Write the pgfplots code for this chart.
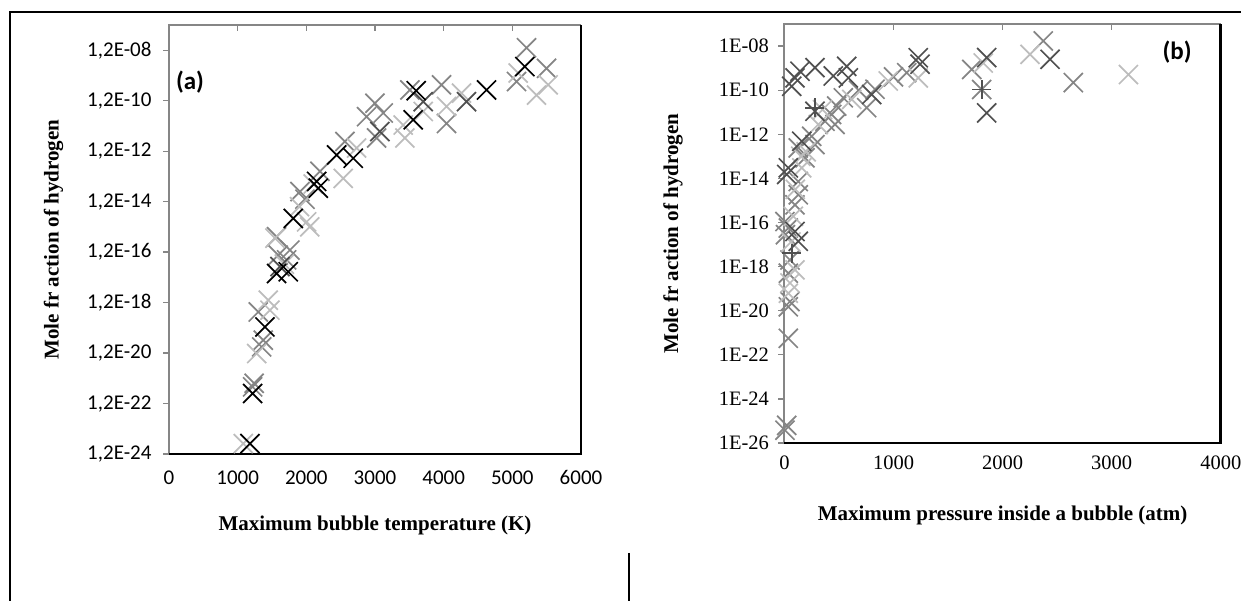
\documentclass[border=0pt]{standalone}
\usepackage{pgfplots}
\pgfplotsset{compat=1.18}
\usepackage{fontspec}
\setmainfont{Liberation Serif}
\newfontfamily\carlito{Carlito}
\definecolor{cblack}{HTML}{000000}
\definecolor{cdark}{HTML}{505050}
\definecolor{cgray}{HTML}{858585}
\definecolor{clight}{HTML}{BDBDBD}
\definecolor{caxis}{HTML}{868686}
\pgfplotsset{
  mk/.style={only marks, mark=x, mark size=13.5pt, line width=1.7pt, color=#1, mark options={solid}},
  pl/.style={only marks, mark=+, mark size=9.5pt, line width=1.7pt, color=#1},
}
\newcommand{\ta}[1]{\mbox{\carlito\fontsize{21}{21}\selectfont #1}}
\newcommand{\tb}[1]{\mbox{\fontsize{20.5}{20.5}\selectfont #1}}
\begin{document}
\begin{tikzpicture}
\path[use as bounding box] (0,0) rectangle (1241pt,601pt);
% outer frame lines
\draw[line width=2pt] (10pt,588.5pt) -- (1241pt,588.5pt);
\draw[line width=2pt] (10pt,589.5pt) -- (10pt,0pt);
\draw[line width=2pt] (628.5pt,48pt) -- (628.5pt,0pt);

% ---------------- panel (a)
\begin{axis}[
  scale only axis,
  ymode=log,
  axis line style={draw=none},
  xtick pos=upper, xticklabel pos=lower,
  ytick pos=left,
  xtick align=inside, ytick align=outside,
  major tick length=6pt,
  every tick/.style={caxis, line width=1.3pt},
  log ticks with fixed point=false,
  clip=false,
  at={(169pt,147pt)}, anchor=south west,
  width=412pt, height=429pt,
  xmin=0, xmax=6000, ymin=1.2e-24, ymax=1.2e-7,
  xtick={0,1000,2000,3000,4000,5000,6000},
  xticklabels={\ta{0},\ta{1000},\ta{2000},\ta{3000},\ta{4000},\ta{5000},\ta{6000}},
  ytick={1.2e-24,1.2e-22,1.2e-20,1.2e-18,1.2e-16,1.2e-14,1.2e-12,1.2e-10,1.2e-8},
  yticklabels={\ta{1,2E-24},\ta{1,2E-22},\ta{1,2E-20},\ta{1,2E-18},\ta{1,2E-16},\ta{1,2E-14},\ta{1,2E-12},\ta{1,2E-10},\ta{1,2E-08}},
  xticklabel style={yshift=-13pt},
  yticklabel style={xshift=-8pt},
  xlabel={Maximum bubble temperature (K)},
  ylabel={Mole fr action of hydrogen},
  xlabel style={at={(axis description cs:0.5,0)}, anchor=center, yshift=-71pt, font=\bfseries\fontsize{21}{21}\selectfont},
  ylabel style={at={(axis description cs:-0.28,0.5)}, anchor=center, font=\bfseries\fontsize{21}{21}\selectfont},
]
\draw[caxis, line width=2pt] (rel axis cs:0,0) -- (rel axis cs:0,1) -- (rel axis cs:1,1);
\draw[black, line width=2.8pt] (rel axis cs:0,0) -- (rel axis cs:1,0) -- (rel axis cs:1,1);
\addplot[mk=cgray] coordinates {
(1218,5.5e-22) (1240,7.6e-22) (1300,5.1e-19) (1373,3.9e-20) (1350,2.1e-20)
(1713,5.9e-17) (1591,9.1e-17) (1761,1.44e-16) (1567,4.9e-16) (1907,3.0e-14)
(1980,1.5e-14) (2198,1.9e-13) (2562,2.9e-12) (2877,2.8e-11) (2999,9.5e-11)
(3120,3.9e-11) (3023,4.0e-12) (3508,3.2e-10) (3969,5.1e-10) (4042,1.5e-11)
(5207,1.5e-8) (5061,6.9e-10) (5498,2.3e-9)
};
\addplot[mk=clight] coordinates {
(1082,3.1e-24) (1446,1.5e-18) (1470,6.0e-19) (1277,1.15e-20) (1543,4.3e-16)
(1680,4.0e-17) (2004,1.9e-15) (1900,7.6e-15) (2050,1.2e-15) (2100,6.0e-14)
(2537,1.0e-13) (2732,1.6e-12) (3435,4.0e-12) (3411,1.3e-11) (3702,4.5e-11)
(4260,2.4e-10) (4042,7.1e-11) (5085,1.5e-9) (5522,5.1e-10) (5352,2.0e-10)
};
\addplot[mk=cdark] coordinates {
(1616,3.2e-17) (3071,7.2e-12) (3702,1.1e-10) (4333,1.1e-10)
};
\addplot[mk=cblack] coordinates {
(1179,3.1e-24) (1218,3.0e-22) (1397,1.3e-19) (1567,1.7e-17) (1737,2.0e-17)
(1810,2.6e-15) (2150,7.6e-14) (2174,4.1e-14) (2441,8.5e-13) (2683,6.3e-13)
(3556,2.1e-11) (3600,3.0e-10) (4624,3.2e-10) (5182,2.7e-9)
};
\node[font=\carlito\bfseries\fontsize{25}{25}\selectfont] at (rel axis cs:0.051,0.868) {(a)};
\end{axis}

% ---------------- panel (b)
\begin{axis}[
  scale only axis,
  ymode=log,
  axis line style={draw=none},
  xtick pos=upper, xticklabel pos=lower,
  ytick pos=left,
  xtick align=inside, ytick align=outside,
  major tick length=6pt,
  every tick/.style={caxis, line width=1.3pt},
  log ticks with fixed point=false,
  clip=false,
  at={(784.4pt,158pt)}, anchor=south west,
  width=436.4pt, height=419pt,
  xmin=0, xmax=4000, ymin=1e-26, ymax=1e-7,
  xtick={0,1000,2000,3000,4000},
  xticklabels={\tb{0},\tb{1000},\tb{2000},\tb{3000},\tb{4000}},
  ytick={1e-26,1e-24,1e-22,1e-20,1e-18,1e-16,1e-14,1e-12,1e-10,1e-8},
  yticklabels={\tb{1E-26},\tb{1E-24},\tb{1E-22},\tb{1E-20},\tb{1E-18},\tb{1E-16},\tb{1E-14},\tb{1E-12},\tb{1E-10},\tb{1E-08}},
  xticklabel style={yshift=-9pt},
  yticklabel style={xshift=-6pt},
  xlabel={Maximum pressure inside a bubble (atm)},
  ylabel={Mole fr action of hydrogen},
  xlabel style={at={(axis description cs:0.5,0)}, anchor=center, yshift=-72pt, font=\bfseries\fontsize{21}{21}\selectfont},
  ylabel style={at={(axis description cs:-0.255,0.5)}, anchor=center, font=\bfseries\fontsize{21}{21}\selectfont},
]
\draw[caxis, line width=2pt] (rel axis cs:0,0) -- (rel axis cs:0,1) -- (rel axis cs:1,1);
\draw[black, line width=2.8pt] (rel axis cs:0,0) -- (rel axis cs:1,0) -- (rel axis cs:1,1);
\addplot[mk=cgray] coordinates {
(1808,1.07e-10) (1717,8.7e-10) (1121,6.2e-10) (1000,4.0e-10) (830,1.1e-10)
(680,1.0e-10) (754,1.6e-11) (540,4.5e-11) (479,1.9e-11) (433,7.9e-12)
(464,2.8e-12) (372,3.9e-12) (250,8.1e-13) (127,2.4e-13) (280,3.4e-13)
(189,8.5e-14) (127,7.2e-15) (127,1.8e-15) (97,6.3e-16) (5,1.1e-16)
(36,5.6e-17) (10,2.8e-17) (51,2.0e-18) (36,5.0e-19) (51,2.6e-20)
(36,1.5e-20) (36,5.6e-22) (21,6.3e-26) (5,3.8e-26) (2373,1.7e-8) (2648,2.2e-10)
};
\addplot[mk=clight] coordinates {
(1823,1.7e-9) (1227,3.6e-10) (952,2.6e-10) (617,3.8e-11) (350,1.3e-11)
(311,2.8e-12) (200,1.6e-13) (150,1.0e-13) (159,3.0e-14) (100,3.2e-15)
(82,1.9e-16) (60,1.3e-17) (97,7.1e-19) (51,1.8e-19) (36,6.2e-20)
(2251,4.2e-9) (3153,5.1e-10)
};
\addplot[mk=cdark] coordinates {
(97,3.6e-10) (67,1.5e-10) (143,7.2e-10) (280,1.05e-9) (448,4.4e-10)
(571,1.2e-9) (586,3.6e-10) (1227,2.95e-9) (1243,1.5e-9) (1854,3.0e-9)
(1854,9.3e-12) (280,1.1e-11) (800,6.3e-11) (159,4.8e-13) (36,3.0e-14)
(21,1.5e-14) (97,3.9e-17) (127,1.4e-17) (2435,2.5e-9)
};
\addplot[pl=cdark] coordinates {
(67,4.1e-18) (1808,1.07e-10) (280,1.6e-11)
};
\node[font=\carlito\bfseries\fontsize{25}{25}\selectfont] at (rel axis cs:0.9,0.934) {(b)};
\end{axis}
\end{tikzpicture}
\end{document}
